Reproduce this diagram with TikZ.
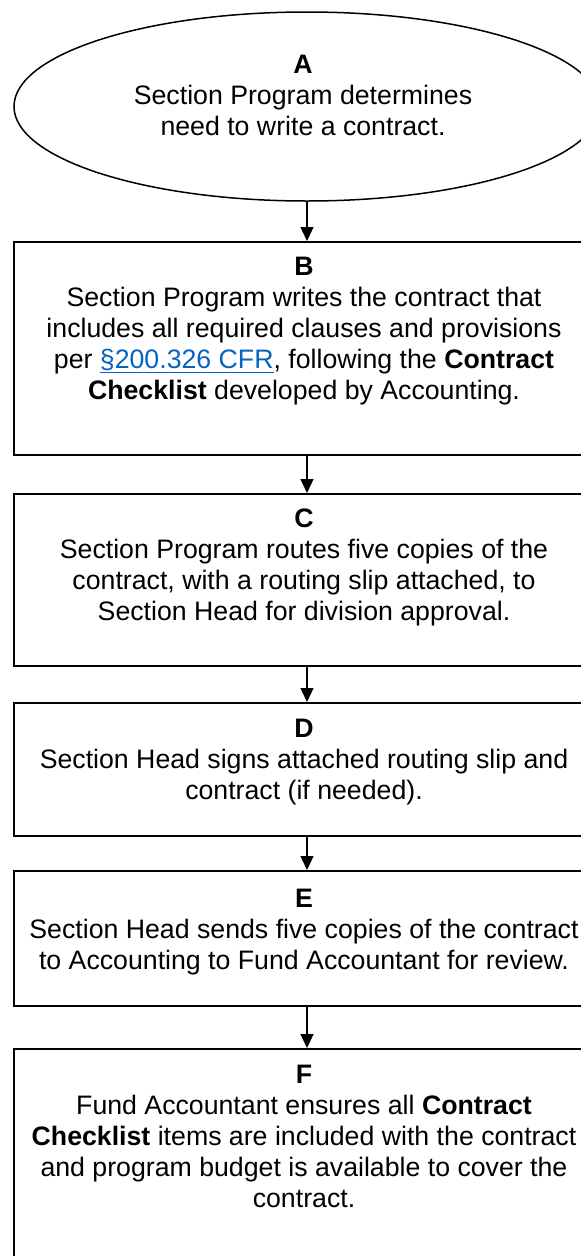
\documentclass[tikz,border=0pt]{standalone}
\usepackage{fontspec}
\setmainfont{Liberation Sans}
\usepackage{xcolor}
\usetikzlibrary{shapes.geometric, arrows.meta, positioning}
\definecolor{cLink}{RGB}{5,99,193}
\tikzset{
	startstop/.style={ellipse, draw=black, line width=1.5pt, minimum width=586pt, minimum height=189pt, inner sep=0pt},
	stepbox/.style  ={rectangle, draw=black, line width=2pt, minimum width=586pt, inner sep=0pt},
	steptext/.style ={align=center, inner sep=0pt, font=\fontsize{26.7}{31}\selectfont},
	flowarrow/.style={-{Triangle[length=14pt, width=13pt]}, line width=1.3pt},
}

\begin{document}
\begin{tikzpicture}[x=1pt, y=-1pt]
	\useasboundingbox (0,0) rectangle (581,1256);
	% steps
	\node[startstop] (stepA) at (307,106.5) {};
	\node[stepbox, minimum height=213pt] (stepB) at (307,348.5) {};
	\node[stepbox, minimum height=172pt] (stepC) at (307,580) {};
	\node[stepbox, minimum height=133pt] (stepD) at (307,769.5) {};
	\node[stepbox, minimum height=135pt] (stepE) at (307,938.5) {};
	\node[stepbox, minimum height=251pt] (stepF) at (307,1174.5) {};
	% texts
	\node[steptext] (txtA) at ([xshift=-4pt, yshift=11pt]stepA.center) {\textbf{A}\\Section Program determines\\need to write a contract.};
	\node[steptext, below=16pt of stepB.north, xshift=-3pt] (txtB) {\textbf{B}\\Section Program writes the contract that\\includes all required clauses and provisions\\per {\color{cLink}\underline{§200.326 CFR}}, following the \textbf{Contract}\\\textbf{Checklist} developed by Accounting.};
	\node[steptext, below=16pt of stepC.north, xshift=-3pt] (txtC) {\textbf{C}\\Section Program routes five copies of the\\contract, with a routing slip attached, to\\Section Head for division approval.};
	\node[steptext, below=17pt of stepD.north, xshift=-3pt] (txtD) {\textbf{D}\\Section Head signs attached routing slip and\\contract (if needed).};
	\node[steptext, below=19pt of stepE.north, xshift=-3pt] (txtE) {\textbf{E}\\Section Head sends five copies of the contract\\to Accounting to Fund Accountant for review.};
	\node[steptext, below=17pt of stepF.north, xshift=-3pt] (txtF) {\textbf{F}\\Fund Accountant ensures all \textbf{Contract}\\\textbf{Checklist} items are included with the contract\\and program budget is available to cover the\\contract.};
	% arrows
	\draw[flowarrow] (stepA.south) -- (stepB.north);
	\draw[flowarrow] (stepB.south) -- (stepC.north);
	\draw[flowarrow] (stepC.south) -- (stepD.north);
	\draw[flowarrow] (stepD.south) -- (stepE.north);
	\draw[flowarrow] (stepE.south) -- (stepF.north);
\end{tikzpicture}
\end{document}
